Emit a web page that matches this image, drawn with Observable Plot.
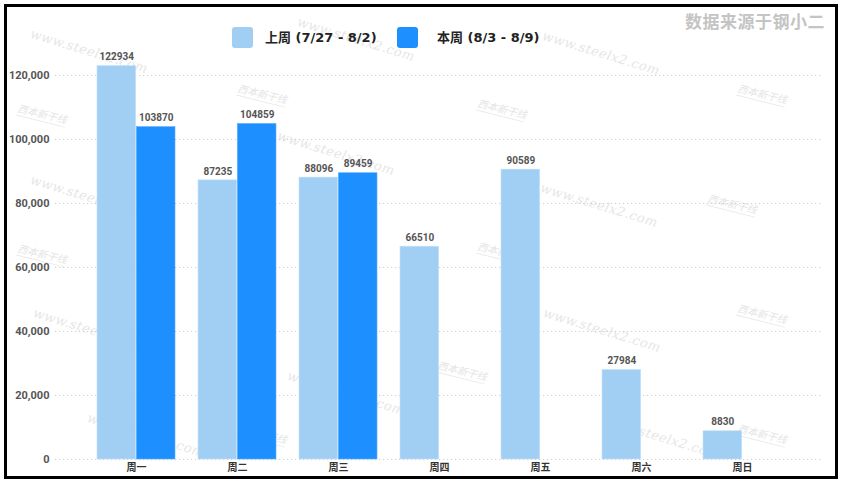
<!DOCTYPE html>
<html>
<head>
<meta charset="utf-8">
<script src="https://cdn.jsdelivr.net/npm/d3@7"></script>
<script src="https://cdn.jsdelivr.net/npm/@observablehq/plot@0.6"></script>
<style>
  html, body { margin: 0; padding: 0; background: #fff; }
  body { width: 847px; height: 489px; overflow: hidden; position: relative; font-family: "DejaVu Sans", "Noto Sans CJK SC", sans-serif; }
  #frame { position: absolute; left: 4px; top: 4px; width: 828px; height: 469px; border: 3px solid #000; pointer-events: none; z-index: 5; }
  #wm { position: absolute; left: 0; top: 0; width: 847px; height: 489px; overflow: hidden; z-index: 0; pointer-events: none; }
  .wt { position: absolute; font-family: "DejaVu Serif", serif; font-style: italic; font-size: 13px; color: #e6e6e6; transform-origin: 0 0; transform: rotate(17deg); white-space: nowrap; letter-spacing: 0.5px; }
  .wl { position: absolute; font-family: "Noto Sans CJK SC", sans-serif; font-size: 10px; color: #e4e4e4; transform-origin: 0 0; transform: rotate(14deg); white-space: nowrap; font-style: italic; border-bottom: 1px solid #eaeaea; }
  #head { position: relative; height: 50px; z-index: 2; }
  .sw { position: absolute; top: 27px; width: 21px; height: 21px; border-radius: 3px; }
  .lt { position: absolute; top: 28px; font-size: 13px; font-weight: bold; color: #222; line-height: 19px; white-space: nowrap; font-family: "DejaVu Sans", "Noto Sans CJK SC", sans-serif; }
  #title { position: absolute; right: 22px; top: 8px; font-size: 17px; font-weight: bold; color: #c4c4c4; font-family: "Noto Sans CJK SC", sans-serif; letter-spacing: 0.5px; }
  #chart { position: relative; z-index: 1; }
  #chart svg { display: block; }
</style>
</head>
<body>
<div id="wm"></div>
<div id="frame"></div>
<div id="head">
  <div id="title"></div>
  <div class="sw" id="sw1" style="left:232px"></div>
  <div class="lt" id="lt1" style="left:265px"></div>
  <div class="sw" id="sw2" style="left:397px"></div>
  <div class="lt" id="lt2" style="left:437px"></div>
</div>
<div id="chart"></div>
<script>
const titleText = "数据来源于钢小二";
const days = ["周一", "周二", "周三", "周四", "周五", "周六", "周日"];
const seriesNames = ["上周 (7/27 - 8/2)", "本周 (8/3 - 8/9)"];
const lastWeek = [122934, 87235, 88096, 66510, 90589, 27984, 8830];
const thisWeek = [103870, 104859, 89459, null, null, null, null];
const yTicks = [0, 20000, 40000, 60000, 80000, 100000, 120000];
const colors = ["#a1cff4", "#1e8fff"];

document.getElementById("title").textContent = titleText;
document.getElementById("sw1").style.background = colors[0];
document.getElementById("sw2").style.background = colors[1];
document.getElementById("lt1").textContent = seriesNames[0];
document.getElementById("lt2").textContent = seriesNames[1];

// faint background watermarks (decoration)
const wmText = "www.steelx2.com";
const wmLogo = "西本新干线";
const wm = document.getElementById("wm");
[[33,26],[300,14],[545,28],[33,172],[280,128],[543,180],[36,305],[290,368],[546,305],[90,410],[605,412]].forEach(([l,t]) => {
  const e = document.createElement("div"); e.className = "wt"; e.style.left = l + "px"; e.style.top = t + "px"; e.textContent = wmText; wm.appendChild(e);
});
[[240,80],[480,95],[740,80],[710,190],[480,238],[740,300],[20,100],[440,357],[740,420],[240,420],[20,240]].forEach(([l,t]) => {
  const e = document.createElement("div"); e.className = "wl"; e.style.left = l + "px"; e.style.top = t + "px"; e.textContent = wmLogo; wm.appendChild(e);
});

const lastData = days.map((d, i) => ({day: d, value: lastWeek[i]}));
const thisData = days.map((d, i) => ({day: d, value: thisWeek[i]})).filter(d => d.value != null);

const W = 847, H = 439;
const mL = 55, mR = 24;
const pi = 0.224, po = 0.40;
const step = (W - mL - mR) / (days.length - pi + 2 * po);
const bw = step * (1 - pi);
const half = bw / 2;

const labelFont = {fontFamily: "Roboto, sans-serif", fontSize: 10, fontWeight: "bold", fill: "#555"};

const chart = Plot.plot({
  width: W,
  height: H,
  marginLeft: mL,
  marginRight: mR,
  marginTop: 25,
  marginBottom: 30,
  style: {background: "transparent", overflow: "visible"},
  x: {type: "band", domain: days, paddingInner: pi, paddingOuter: po, label: null},
  y: {domain: [0, 120000], label: null},
  marks: [
    Plot.ruleY(yTicks, {stroke: "#cfcfcf", strokeDasharray: "1.2,2.8", strokeWidth: 1}),
    Plot.axisY({ticks: yTicks, tickFormat: d3.format(","), tickSize: 0, tickPadding: 6, label: null,
      fontFamily: "Roboto, sans-serif", fontSize: 11, fontWeight: "bold", fill: "#555"}),
    Plot.axisX({tickSize: 0, tickPadding: 4, label: null,
      fontFamily: "'Noto Sans CJK SC', sans-serif", fontSize: 10, fontWeight: "bold", fill: "#333"}),
    Plot.barY(lastData, {x: "day", y: "value", fill: colors[0], insetRight: half, stroke: "#c4e2fa", strokeWidth: 0.6}),
    Plot.barY(thisData, {x: "day", y: "value", fill: colors[1], insetLeft: half, stroke: "#5aaeff", strokeWidth: 0.6}),
    Plot.text(lastData, {x: "day", y: "value", text: d => String(d.value), dx: -half / 2, dy: -9, ...labelFont}),
    Plot.text(thisData, {x: "day", y: "value", text: d => String(d.value), dx: half / 2, dy: -9, ...labelFont})
  ]
});
document.getElementById("chart").appendChild(chart);
</script>
</body>
</html>
